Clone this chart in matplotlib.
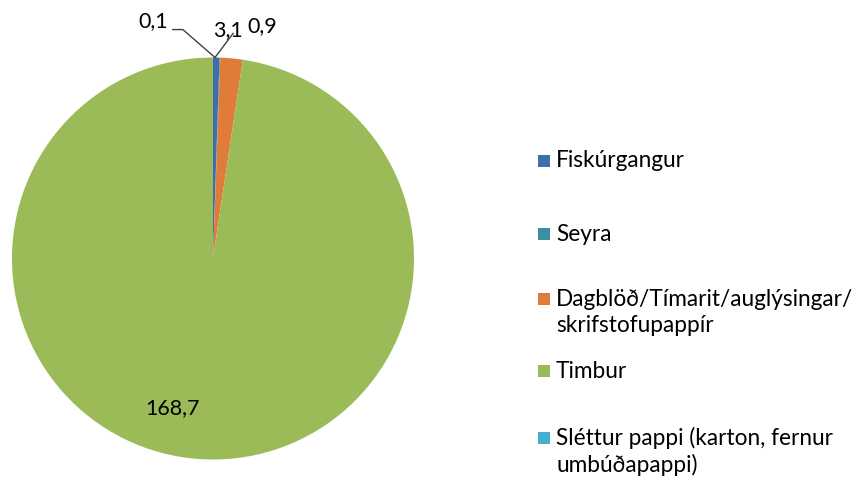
import matplotlib.pyplot as plt
from matplotlib.patches import Rectangle

plt.rcParams["font.family"] = ["Lato", "DejaVu Sans"]

categories = ["Fiskúrgangur", "Seyra", "Dagblöð/Tímarit/auglýsingar/\nskrifstofupappír",
              "Timbur", "Sléttur pappi (karton, fernur\numbúðapappi)"]
values = [0.9, 0.1, 3.1, 168.7, 0.0]
colors = ["#3F6EAA", "#3A8FA5", "#E07B39", "#9BBB59", "#45B0CD"]


def fmt(v):
    return f"{v:.1f}".replace(".", ",")


fig = plt.figure(figsize=(8.64, 4.82), dpi=100)
W, H = 864, 482
ax = fig.add_axes([12 / W, (H - 460) / H, 402 / W, 403 / H])
wedges, _ = ax.pie(values, colors=colors, startangle=90, counterclock=False,
                   wedgeprops=dict(linewidth=0))
ax.set_xlim(-1, 1)
ax.set_ylim(-1, 1)
ax.set_aspect("equal")

# data labels
fs = 15.5
ax.text(-0.2, -0.745, fmt(values[3]), fontsize=fs, ha="center", va="center")
ax.text(-0.30, 1.18, fmt(values[1]), fontsize=fs, ha="center", va="center")
ax.text(0.075, 1.135, fmt(values[2]), fontsize=fs, ha="center", va="center")
ax.text(0.245, 1.155, fmt(values[0]), fontsize=fs, ha="center", va="center")
ax.plot([-0.20, -0.15, 0.01], [1.139, 1.139, 1.0], color="#404040", lw=1, clip_on=False)
ax.plot([0.10, 0.01], [1.12, 1.0], color="#404040", lw=1, clip_on=False)

# legend, placed by hand like the Excel one
legend_y = [161, 234, 299, 371, 438]
line_h = 27
for lab, c, y in zip(categories, colors, legend_y):
    fig.patches.append(Rectangle((538 / W, 1 - (y + 6) / H), 12 / W, 12 / H,
                                 facecolor=c, transform=fig.transFigure))
    for i, line in enumerate(lab.split("\n")):
        fig.text(556 / W, 1 - (y + i * line_h) / H, line, fontsize=16.3,
                 ha="left", va="center")

fig.savefig("out.png", dpi=100)
